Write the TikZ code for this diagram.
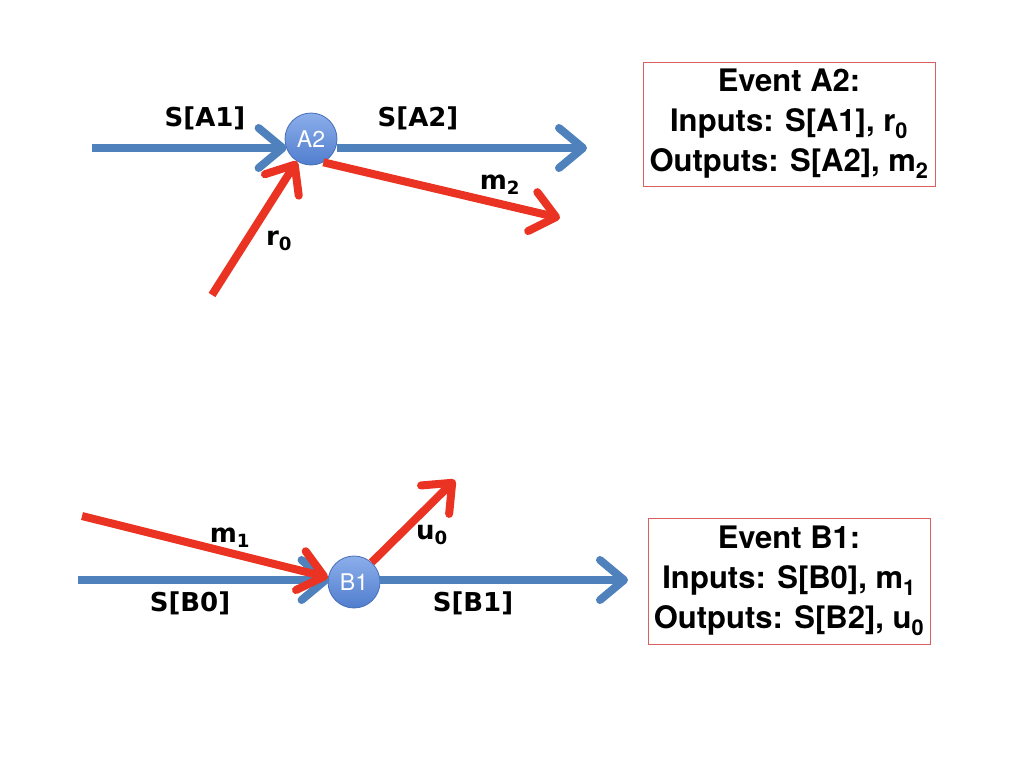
\documentclass[tikz,border=0pt]{standalone}
\usepackage{fontspec}
\setmainfont{TeX Gyre Heros}
\newfontfamily\lblfont{DejaVu Sans}
\usetikzlibrary{arrows.meta}
\definecolor{flowblue}{RGB}{79,129,189}
\definecolor{msgred}{RGB}{234,51,35}
\definecolor{boxred}{RGB}{220,95,95}
\definecolor{balltop}{RGB}{140,175,235}
\definecolor{ballbot}{RGB}{80,125,205}
\definecolor{ballrim}{RGB}{70,110,185}
\tikzset{
  evnode/.style={circle,minimum size=52pt,inner sep=0pt,draw=ballrim,line width=0.8pt,
    top color=balltop,bottom color=ballbot,
    text=white,font=\fontsize{23}{23}\selectfont},
  flow/.style={line width=8pt,flowblue,-{Straight Barb[length=24pt,width=40pt,round]}},
  msg/.style={line width=8pt,msgred,-{Straight Barb[length=24pt,width=40pt,round]}},
  lbl/.style={font=\lblfont\bfseries\fontsize{26}{26}\selectfont,inner sep=0pt},
  infobox/.style={draw=boxred,line width=1pt,align=center,inner sep=0pt,
    minimum width=292pt,minimum height=124pt,
    font=\bfseries\fontsize{31}{40}\selectfont},
}
\begin{document}
\begin{tikzpicture}[x=1pt,y=-1pt]
\useasboundingbox[fill=white] (0,0) rectangle (1024,768);
% top event
\coordinate (a1in) at (92,148);
\coordinate (a2out) at (587,148);
\coordinate (r0in) at (212,295);
\coordinate (m2out) at (560,218);
\node[evnode] (A2) at (311,139) {A2};
\draw[flow,shorten >=-2pt] (a1in) -- (a1in -| A2.west);
\draw[flow] (A2.east |- a2out) -- (a2out);
\draw[msg] (r0in) -- (A2);
\draw[msg] (A2.-62) -- (m2out);
\node[lbl] (lA1) at (205,118) {S[A1]};
\node[lbl] (lA2) at (418,118) {S[A2]};
\node[lbl] (lm2) at (500,185) {m\textsubscript{2}};
\node[lbl] (lr0) at (279,241) {r\textsubscript{0}};
\node[infobox] (boxA) at (789,124) {Event A2:\\Inputs: S[A1], r\textsubscript{0}\\Outputs: S[A2], m\textsubscript{2}};
% bottom event
\coordinate (b0in) at (78,580);
\coordinate (b1out) at (628,580);
\coordinate (m1in) at (82,516);
\coordinate (u0out) at (455,480);
\node[evnode] (B1) at (354,582) {B1};
\draw[flow,shorten >=-2pt] (b0in) -- (b0in -| B1.west);
\draw[flow] (B1.east |- b1out) -- (b1out);
\draw[msg] (m1in) -- (B1.170);
\draw[msg] (B1.48) -- (u0out);
\node[lbl] (lm1) at (230,538) {m\textsubscript{1}};
\node[lbl] (lB0) at (190,603) {S[B0]};
\node[lbl] (lu0) at (432,535) {u\textsubscript{0}};
\node[lbl] (lB1) at (473,603) {S[B1]};
\node[infobox,minimum width=282pt,minimum height=126pt] (boxB) at (789,581) {Event B1:\\Inputs: S[B0], m\textsubscript{1}\\Outputs: S[B2], u\textsubscript{0}};
\end{tikzpicture}
\end{document}
